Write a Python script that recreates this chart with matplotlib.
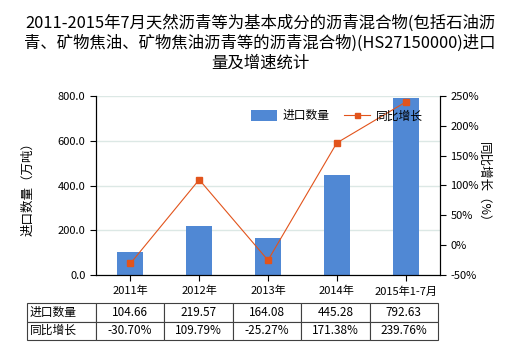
import matplotlib
matplotlib.use("Agg")
import matplotlib.pyplot as plt
import numpy as np

plt.rcParams["font.family"] = ["Noto Sans CJK SC", "DejaVu Sans"]

# data
categories = ["2011年", "2012年", "2013年", "2014年", "2015年1-7月"]
volume = [104.66, 219.57, 164.08, 445.28, 792.63]          # 万吨
growth = [-30.70, 109.79, -25.27, 171.38, 239.76]          # %
volume_labels = ["104.66", "219.57", "164.08", "445.28", "792.63"]
growth_labels = ["-30.70%", "109.79%", "-25.27%", "171.38%", "239.76%"]

TITLE = ("2011-2015年7月天然沥青等为基本成分的沥青混合物(包括石油沥\n"
         "青、矿物焦油、矿物焦油沥青等的沥青混合物)(HS27150000)进口\n"
         "量及增速统计")

BAR_COLOR = "#5088D4"
LINE_COLOR = "#E2541C"
GRID_COLOR = "#DCE8E5"

W, H = 520, 350
fig = plt.figure(figsize=(W / 100, H / 100), dpi=100)
ax = fig.add_axes([96 / W, (H - 275) / H, 344 / W, 179 / H])
ax2 = ax.twinx()

x = np.arange(len(categories))
ax.bar(x, volume, width=0.38, color=BAR_COLOR, zorder=2, label="进口数量")
ax2.plot(x, growth, color=LINE_COLOR, lw=0.8, marker="s", ms=4.5,
         label="同比增长", zorder=3)

ax.set_xlim(-0.5, len(categories) - 0.5)
ax.set_ylim(0, 800)
ax.set_yticks(np.arange(0, 801, 200))
ax.set_yticklabels([f"{v:.1f}" for v in np.arange(0, 801, 200)])
ax2.set_ylim(-50, 250)
ax2.set_yticks(np.arange(-50, 251, 50))
ax2.set_yticklabels([f"{v}%" for v in np.arange(-50, 251, 50)])

ax.set_xticks(x)
ax.set_xticklabels(categories)
ax.yaxis.grid(True, color=GRID_COLOR, lw=1, zorder=0)
ax.set_axisbelow(True)

for a in (ax, ax2):
    a.tick_params(labelsize=8, length=4, width=0.8, colors="black")
    a.spines["top"].set_visible(False)
    for s in ("left", "right", "bottom"):
        a.spines[s].set_color("black")
        a.spines[s].set_linewidth(0.8)
ax.tick_params(axis="x", pad=4)

ax.set_ylabel("进口数量（万吨）", fontsize=9, labelpad=17)
ax2.set_ylabel("同比增长（%）", fontsize=9, rotation=270, labelpad=8)

fig.text(0.5, 1 - 43 / H, TITLE, fontsize=11.8, ha="center", va="center",
         linespacing=1.22)

# legend
h1, l1 = ax.get_legend_handles_labels()
h2, l2 = ax2.get_legend_handles_labels()
ax2.legend(h1 + h2, l1 + l2, loc="upper right", bbox_to_anchor=(0.98, 0.985),
           ncol=2, frameon=False, fontsize=8.5, handlelength=2.2,
           handleheight=1.0, columnspacing=1.2, handletextpad=0.5,
           markerscale=0.8)

# data table below the axes
cell_text = [["进口数量"] + volume_labels, ["同比增长"] + growth_labels]
tbl = ax.table(cellText=cell_text,
               bbox=[(27 - 96) / 344, (275 - 340) / 179, 411 / 344, 37 / 179],
               cellLoc="center", colWidths=[69] + [68.4] * 5)
tbl.auto_set_font_size(False)
tbl.set_fontsize(8.5)
for (r, c), cell in tbl.get_celld().items():
    cell.set_edgecolor("#404040")
    cell.set_linewidth(0.8)
    if c == 0:
        cell.set_text_props(ha="left")
        cell.PAD = 0.04

fig.savefig("out.png", dpi=100)
